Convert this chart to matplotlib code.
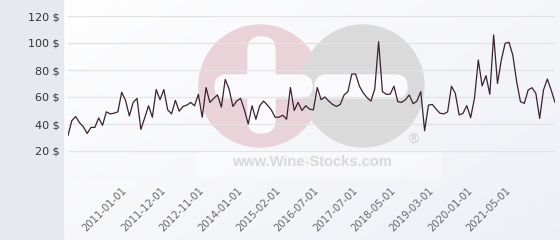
import numpy as np
import matplotlib.pyplot as plt
from matplotlib.patches import Circle, FancyBboxPatch, Rectangle

# monthly price
prices = [31.5, 42.5, 45.5, 41, 38, 33, 37.5, 37.5, 44.5, 39,
          49, 47.5, 48, 49, 63.5, 57.5, 46, 56, 59, 36,
          44.5, 53.5, 45, 65.5, 58, 65.5, 50.5, 47.5, 57.5, 49.5,
          53, 54, 56, 53.5, 62, 45, 67, 56, 59, 61.5,
          52.5, 73, 66, 53, 57, 59, 50.5, 40, 53.5, 43.5,
          53.5, 57, 54, 50.5, 45, 45, 46.5, 43.5, 67, 50,
          56, 50, 53.5, 51, 50.5, 67, 58, 60, 57, 54.5,
          53, 54.5, 61.5, 64, 77, 77, 68, 63, 59.5, 57,
          66, 101, 64, 62, 62, 68, 56.5, 56, 58, 61.5,
          55, 57, 64, 35, 54, 54.5, 51, 48, 47.5, 49,
          68, 62.7, 46.7, 47.9, 53.6, 44.7, 59, 87.4, 68.2, 75.8,
          62, 106, 70, 87.4, 99.8, 100.5, 91, 71.3, 56.5, 55.3,
          65.2, 66.9, 62.7, 44.2, 65.2, 73.3, 65.2, 56]

tick_labels = ['2011-01-01', '2011-12-01', '2012-11-01', '2014-01-01',
               '2015-02-01', '2016-07-01', '2017-07-01', '2018-05-01',
               '2019-03-01', '2020-01-01', '2021-05-01']
y_ticks = [0, 20, 40, 60, 80, 100, 120]

W, H = 560, 240
fig = plt.figure(figsize=(W / 100, H / 100), dpi=100)

# background: gradient + left panel + watermark, in pixel coords
bg = fig.add_axes([0, 0, 1, 1], zorder=0)
bg.set_xlim(0, W)
bg.set_ylim(H, 0)
bg.axis('off')
gx, gy = np.meshgrid(np.linspace(0, 1, 200), np.linspace(0, 1, 100))
t = (gx * 0.6 + gy * 0.4)
c0 = np.array([1.0, 1.0, 1.0])
c1 = np.array([0.935, 0.94, 0.963])
img = c0 + (c1 - c0) * t[..., None]
bg.imshow(img, extent=(0, W, H, 0), aspect='auto', zorder=0)
bg.add_patch(Rectangle((0, 0), 63, H, color='#e6e9ed', zorder=1))

# wine-stocks logo watermark
bg.add_patch(Circle((260, 86), 61, color='#ead2d9', zorder=2))
bg.add_patch(Circle((363, 86), 61, color='#dadada', zorder=3))
bg.add_patch(FancyBboxPatch((215, 75), 97, 23, boxstyle='round,pad=0,rounding_size=11.5',
                            color='#fafafc', zorder=4))
bg.add_patch(FancyBboxPatch((248, 37), 27, 96, boxstyle='round,pad=0,rounding_size=13',
                            color='#fafafc', zorder=4))
bg.add_patch(FancyBboxPatch((315, 75), 92, 23, boxstyle='round,pad=0,rounding_size=11.5',
                            color='#fafafc', zorder=4))
bg.add_patch(Rectangle((196, 150), 244, 28, color='white', alpha=0.4, zorder=4))
bg.text(312, 162, 'www.Wine-Stocks.com', fontsize=10.5, fontweight='bold',
        family='Liberation Sans', color='#d9d9d9', ha='center', va='center', zorder=5)
bg.text(413, 140, '®', fontsize=10, color='#d0d0d0', ha='center', va='center', zorder=5)

# main chart
ax = fig.add_axes([68 / W, 62 / H, 487 / W, 162 / H], zorder=2)
ax.patch.set_alpha(0)
x = np.arange(len(prices))
ax.plot(x, prices, color='#3a2230', lw=0.9, zorder=3)

ax.set_xlim(0, len(prices) - 1)
ax.set_ylim(0, 120)
ax.set_yticks(y_ticks)
ax.set_yticklabels(['' if v == 0 else f'{v} $' for v in y_ticks])
ax.grid(axis='y', color='#e3e3e6', lw=0.9, zorder=1)
ax.set_axisbelow(True)

tick_pos = list(range(15, 15 + 10 * len(tick_labels), 10))
ax.set_xticks(tick_pos)
ax.set_xticklabels(tick_labels, rotation=45, ha='right', va='center',
                   rotation_mode='anchor', fontsize=7.2, color='#666666')
ax.tick_params(axis='x', length=0, pad=8)
ax.tick_params(axis='y', length=0, pad=6, labelsize=8, labelcolor='#333333')
for s in ax.spines.values():
    s.set_visible(False)

fig.savefig('out.png', dpi=100)
